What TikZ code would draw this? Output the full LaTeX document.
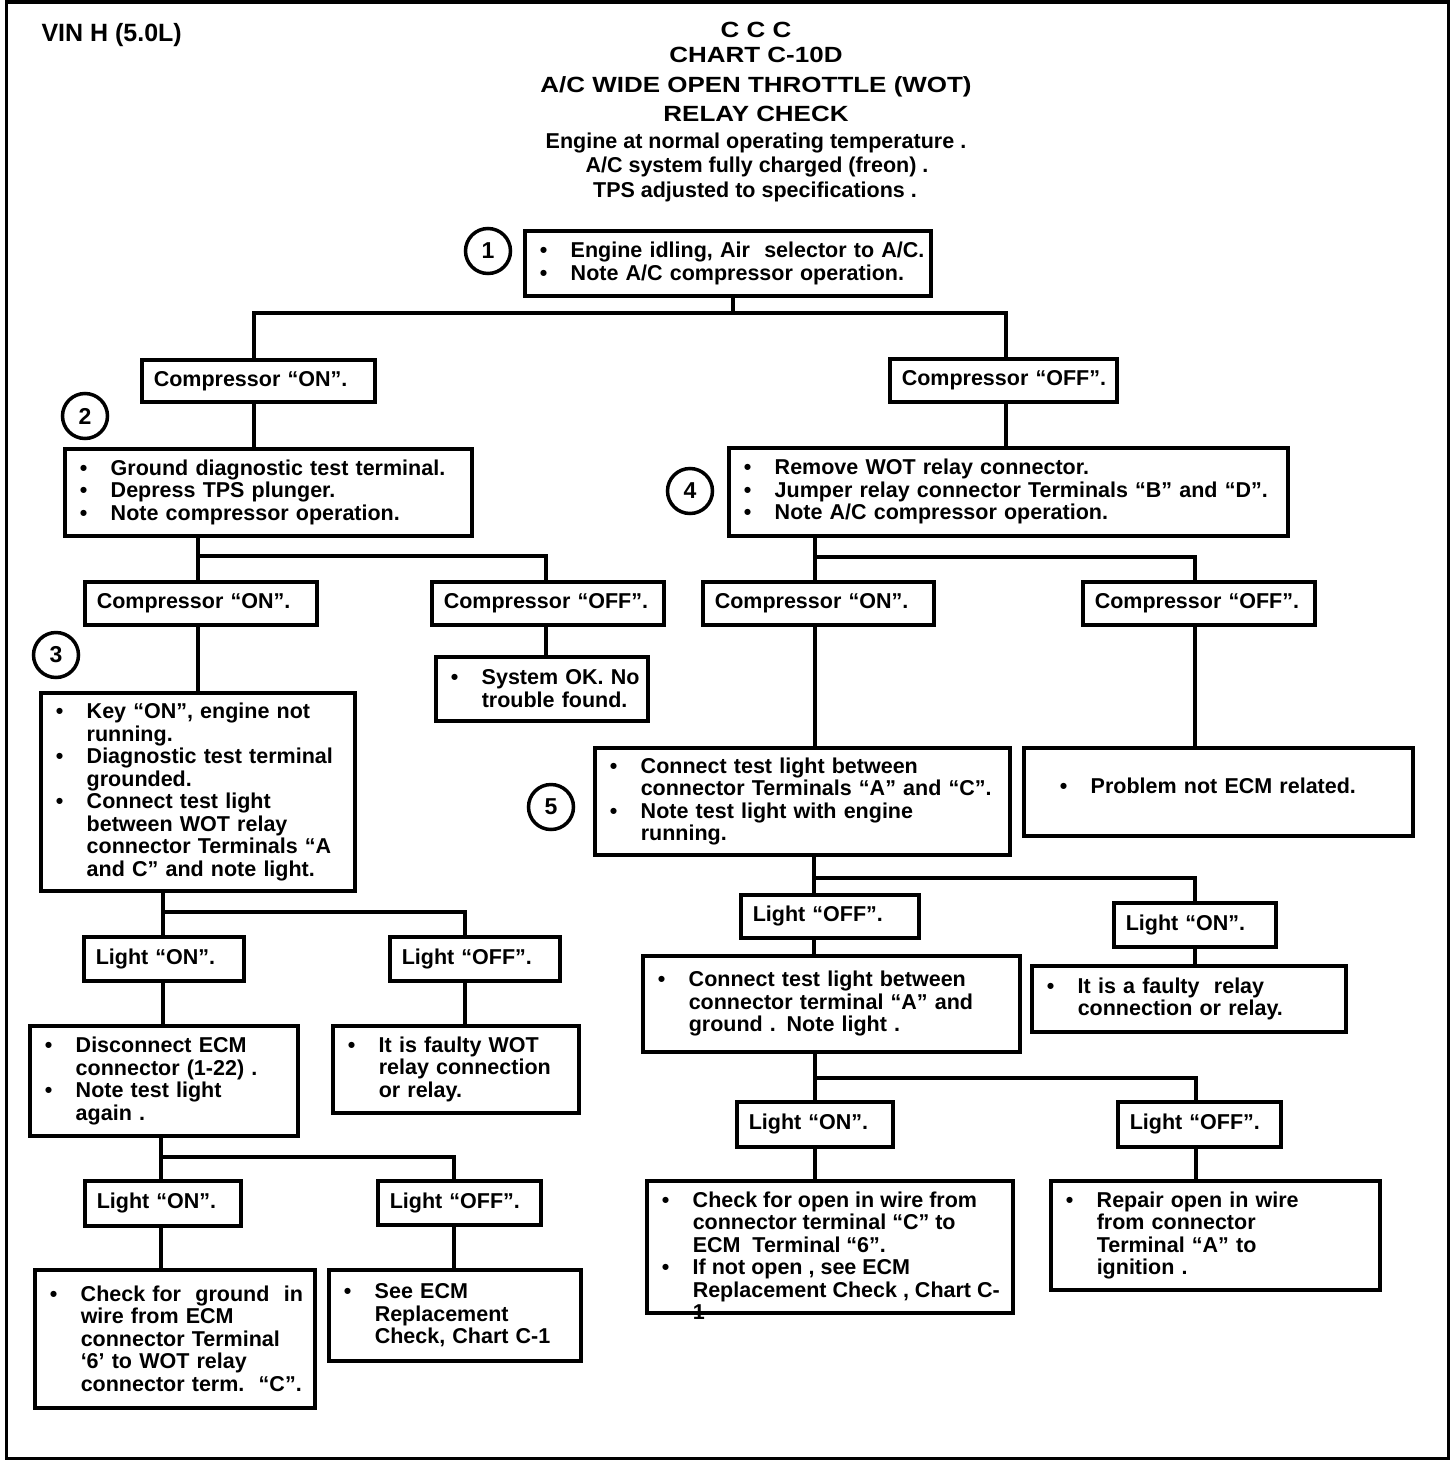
\documentclass[tikz,border=0pt]{standalone}
\usepackage{fontspec}
\setmainfont{Liberation Sans}
\usepackage{graphicx}
\newcommand\itm[1]{\mbox{\makebox[31pt][l]{\textbullet}#1}}
\newcommand\cnt[1]{\mbox{\hspace*{31pt}#1}}
\tikzset{
  every node/.style={font=\fontsize{21.5}{22.5}\selectfont\bfseries},
  box/.style={draw, line width=3.5pt, anchor=north west, align=left, inner ysep=0pt},
  B/.code 2 args={\pgfmathsetmacro\mytw{#1-30}\edef\tmpB{\noexpand\tikzset{box, inner xsep=15pt, minimum width=#1pt, minimum height=#2pt, text width=\mytw pt}}\tmpB},
  L/.code 2 args={\pgfmathsetmacro\mytw{#1-24}\edef\tmpL{\noexpand\tikzset{box, inner xsep=12pt, minimum width=#1pt, minimum height=#2pt, text width=\mytw pt}}\tmpL},
  conn/.style={line width=3.5pt},
  circ/.style={circle, draw, line width=3.5pt, minimum size=45pt, inner sep=0pt, font=\fontsize{23}{24}\selectfont\bfseries},
  title/.style={anchor=base, font=\fontsize{22}{24}\selectfont\bfseries},
  sub/.style={anchor=base, font=\fontsize{21.5}{22.5}\selectfont\bfseries},
  frame/.style={line width=3.5pt}
}
\begin{document}
\begin{tikzpicture}[x=1pt,y=-1pt]
\fill[white] (0,0) rectangle (1456,1462);
\useasboundingbox (0,0) rectangle (1456,1462);
\draw[frame] (6.5,1.8) rectangle (1448.5,1458.5);

% titles
\node[anchor=base west, font=\fontsize{25}{27}\selectfont\bfseries] (vin) at (38,41) {VIN H (5.0L)};
\node[title] (t0) at (756,37) {\scalebox{1.18}[1]{C C C}};
\node[title] (t1) at (756,62) {\scalebox{1.18}[1]{CHART C-10D}};
\node[title] (t2) at (756,92.5) {\scalebox{1.18}[1]{A/C WIDE OPEN THROTTLE (WOT)}};
\node[title] (t3) at (756,121.5) {\scalebox{1.18}[1]{RELAY CHECK}};
\node[sub] (t4) at (756,148) {Engine at normal operating temperature .};
\node[sub] (t5) at (757,172.5) {A/C system fully charged (freon) .};
\node[sub] (t6) at (755,197.5) {TPS adjusted to specifications .};

% circled step numbers
\node[circ] (n1) at (488,251) {1};
\node[circ] (n2) at (85,416) {2};
\node[circ] (n3) at (56,655) {3};
\node[circ] (n4) at (690,491) {4};
\node[circ] (n5) at (551,807) {5};

% boxes
\node[B={406}{65}] (b1) at (523,229) {\itm{Engine idling, Air\ \ selector to A/C.}\\\itm{Note A/C compressor operation.}};
\node[L={233}{42}] (c1on) at (140,358) {\mbox{Compressor “ON”.}};
\node[L={227}{43}] (c1off) at (888,357) {\mbox{Compressor “OFF”.}};
\node[B={407}{87}] (b2) at (63,447) {\itm{Ground diagnostic test terminal.}\\\itm{Depress TPS plunger.}\\\itm{Note compressor operation.}};
\node[B={559}{88}] (b4) at (727,446) {\itm{Remove WOT relay connector.}\\\itm{Jumper relay connector Terminals “B” and “D”.}\\\itm{Note A/C compressor operation.}};
\node[L={232}{43}] (c2on) at (83,580) {\mbox{Compressor “ON”.}};
\node[L={232}{43}] (c2off) at (430,580) {\mbox{Compressor “OFF”.}};
\node[L={231}{43}] (c5on) at (701,580) {\mbox{Compressor “ON”.}};
\node[L={232}{43}] (c5off) at (1081,580) {\mbox{Compressor “OFF”.}};
\node[B={212}{64}] (sysok) at (434,655) {\itm{System OK. No}\\\cnt{trouble found.}};
\node[B={314}{198}] (b3) at (39,691) {\itm{Key “ON”, engine not}\\\cnt{running.}\\\itm{Diagnostic test terminal}\\\cnt{grounded.}\\\itm{Connect test light}\\\cnt{between WOT relay}\\\cnt{connector Terminals “A}\\\cnt{and C” and note light.}};
\node[B={415}{107}] (b5) at (593,746) {\itm{Connect test light between}\\\cnt{connector Terminals “A” and “C”.}\\\itm{Note test light with engine}\\\cnt{running.}};
\node[B={389}{88}] (prob) at (1022,746) {\hspace*{21pt}\itm{Problem not ECM related.}\\[-10pt]\mbox{}};
\node[L={160}{44}] (l3on) at (82,935) {\mbox{Light “ON”.}};
\node[L={170}{44}] (l3off) at (388,935) {\mbox{Light “OFF”.}};
\node[L={178}{43}] (l6off) at (739,893) {\mbox{Light “OFF”.}};
\node[L={162}{44}] (l6on) at (1112,901) {\mbox{Light “ON”.}};
\node[B={268}{110}] (b6) at (28,1024) {\itm{Disconnect ECM}\\\cnt{connector (1-22) .}\\\itm{Note test light}\\\cnt{again .}};
\node[B={246}{87}] (b7) at (331,1024) {\itm{It is faulty WOT}\\\cnt{relay connection}\\\cnt{or relay.}};
\node[B={377}{96}] (b10) at (641,954) {\itm{Connect test light between}\\\cnt{connector terminal “A” and}\\\cnt{ground . Note light .}};
\node[B={314}{66}] (b11) at (1030,964) {\itm{It is a faulty\ \ relay}\\\cnt{connection or relay.}};
\node[L={156}{45}] (l4on) at (83,1179) {\mbox{Light “ON”.}};
\node[L={163}{44}] (l4off) at (376,1179) {\mbox{Light “OFF”.}};
\node[L={156}{45}] (l7on) at (735,1100) {\mbox{Light “ON”.}};
\node[L={163}{45}] (l7off) at (1116,1100) {\mbox{Light “OFF”.}};
\node[B={280}{138}] (b8) at (33,1268) {\itm{Check for\ \ ground\ \ in}\\\cnt{wire from ECM}\\\cnt{connector Terminal}\\\cnt{‘6’ to WOT relay}\\\cnt{connector term.\ \ “C”.}};
\node[B={252}{91}] (b9) at (327,1268) {\itm{See ECM}\\\cnt{Replacement}\\\cnt{Check, Chart C-1}};
\node[box, inner xsep=15pt, minimum width=366pt, minimum height=132pt] (b12) at (645,1179) {\parbox[c][110pt][t]{336pt}{\itm{Check for open in wire from}\\\cnt{connector terminal “C” to}\\\cnt{ECM\ \ Terminal “6”.}\\\itm{If not open , see ECM}\\\cnt{Replacement Check , Chart C-}\\\cnt{1}}};
\node[B={329}{109}] (b13) at (1049,1179) {\itm{Repair open in wire}\\\cnt{from connector}\\\cnt{Terminal “A” to}\\\cnt{ignition .}};

% junction points
\coordinate (s1m) at (733,313); \coordinate (s1l) at (254,313); \coordinate (s1r) at (1006,313);
\coordinate (s2l) at (198,556); \coordinate (s2r) at (546,556);
\coordinate (s3l) at (163,912); \coordinate (s3r) at (465,912);
\coordinate (s4l) at (161,1157); \coordinate (s4r) at (454,1157);
\coordinate (s5l) at (815,557); \coordinate (s5r) at (1195,557);
\coordinate (s6l) at (814,878); \coordinate (s6r) at (1195,878);
\coordinate (s7l) at (815,1078); \coordinate (s7r) at (1196,1078);

% connectors
\draw[conn] (b1.south -| s1m) -- (s1m);
\draw[conn] (c1on.north -| s1l) -- (s1l) -- (s1r) -- (c1off.north -| s1r);
\draw[conn] (c1on.south -| s1l) -- (b2.north -| s1l);
\draw[conn] (c1off.south -| s1r) -- (b4.north -| s1r);

\draw[conn] (b2.south -| s2l) -- (s2l);
\draw[conn] (c2on.north -| s2l) -- (s2l) -- (s2r) -- (c2off.north -| s2r);
\draw[conn] (c2on.south -| s2l) -- (b3.north -| s2l);
\draw[conn] (c2off.south -| s2r) -- (sysok.north -| s2r);

\draw[conn] (b3.south -| s3l) -- (s3l);
\draw[conn] (l3on.north -| s3l) -- (s3l) -- (s3r) -- (l3off.north -| s3r);
\draw[conn] (l3on.south -| s3l) -- (b6.north -| s3l);
\draw[conn] (l3off.south -| s3r) -- (b7.north -| s3r);

\draw[conn] (b6.south -| s4l) -- (s4l);
\draw[conn] (l4on.north -| s4l) -- (s4l) -- (s4r) -- (l4off.north -| s4r);
\draw[conn] (l4on.south -| s4l) -- (b8.north -| s4l);
\draw[conn] (l4off.south -| s4r) -- (b9.north -| s4r);

\draw[conn] (b4.south -| s5l) -- (s5l);
\draw[conn] (c5on.north -| s5l) -- (s5l) -- (s5r) -- (c5off.north -| s5r);
\draw[conn] (c5on.south -| s5l) -- (b5.north -| s5l);
\draw[conn] (c5off.south -| s5r) -- (prob.north -| s5r);

\draw[conn] (b5.south -| s6l) -- (s6l);
\draw[conn] (l6off.north -| s6l) -- (s6l) -- (s6r) -- (l6on.north -| s6r);
\draw[conn] (l6off.south -| s6l) -- (b10.north -| s6l);
\draw[conn] (l6on.south -| s6r) -- (b11.north -| s6r);

\draw[conn] (b10.south -| s7l) -- (s7l);
\draw[conn] (l7on.north -| s7l) -- (s7l) -- (s7r) -- (l7off.north -| s7r);
\draw[conn] (l7on.south -| s7l) -- (b12.north -| s7l);
\draw[conn] (l7off.south -| s7r) -- (b13.north -| s7r);
\end{tikzpicture}
\end{document}
